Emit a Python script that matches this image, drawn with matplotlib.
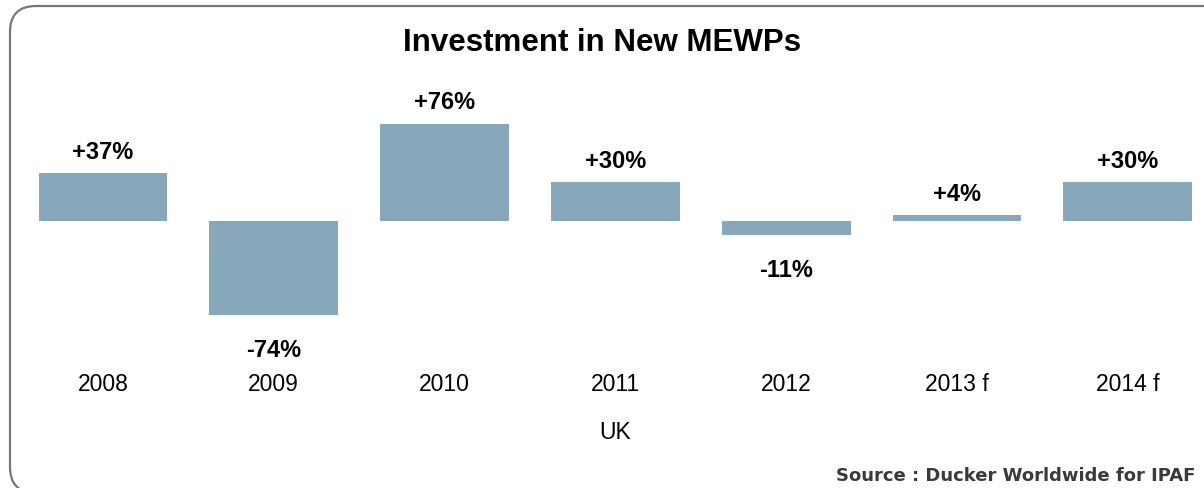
import numpy as np
import matplotlib
matplotlib.use("Agg")
import matplotlib.pyplot as plt
from matplotlib.patches import FancyBboxPatch
from matplotlib.transforms import blended_transform_factory

years = ["2008", "2009", "2010", "2011", "2012", "2013 f", "2014 f"]
growth = [37, -74, 76, 30, -11, 4, 30]
labels = ["+37%", "-74%", "+76%", "+30%", "-11%", "+4%", "+30%"]

bar_color = "#87a8bb"
plt.rcParams["font.family"] = ["Liberation Sans", "DejaVu Sans"]

fig = plt.figure(figsize=(12.04, 4.89), dpi=100)
ax = fig.add_axes([0, 0, 1, 1])
ax.axis("off")

x = np.arange(len(years))
ax.bar(x, growth, width=0.755, color=bar_color, linewidth=0)
ax.set_xlim(-0.603, 6.446)
ax.set_ylim(-210, 174)

for xi, v, lab in zip(x, growth, labels):
    if v >= 0:
        ax.annotate(lab, (xi, v), xytext=(0, 16), textcoords="offset points",
                    ha="center", va="center", fontsize=17, fontweight="bold")
    else:
        ax.annotate(lab, (xi, v), xytext=(0, -25), textcoords="offset points",
                    ha="center", va="center", fontsize=17, fontweight="bold")

# year labels and category
tr = blended_transform_factory(ax.transData, ax.transAxes)
for xi, y in zip(x, years):
    ax.text(xi, 1 - 385 / 489, y, transform=tr, ha="center", va="center", fontsize=16.5)
ax.text(3, 1 - 433 / 489, "UK", transform=tr, ha="center", va="center", fontsize=16.5)

fig.text(0.5, 1 - 43 / 489, "Investment in New MEWPs", ha="center", va="center",
         fontsize=22.5, fontweight="bold")
fig.text(1195 / 1204, 1 - 476 / 489, "Source : Ducker Worldwide for IPAF",
         ha="right", va="center", fontsize=13, fontweight="bold",
         family="DejaVu Sans", color="#3a3a3a")

# rounded frame, partly outside the picture
frame = FancyBboxPatch((10, -5), 1240, 487, boxstyle="round,pad=0,rounding_size=26",
                       transform=None, fill=False, edgecolor="#787878", linewidth=1.6)
fig.patches.append(frame)

fig.savefig("out.png", dpi=100)
